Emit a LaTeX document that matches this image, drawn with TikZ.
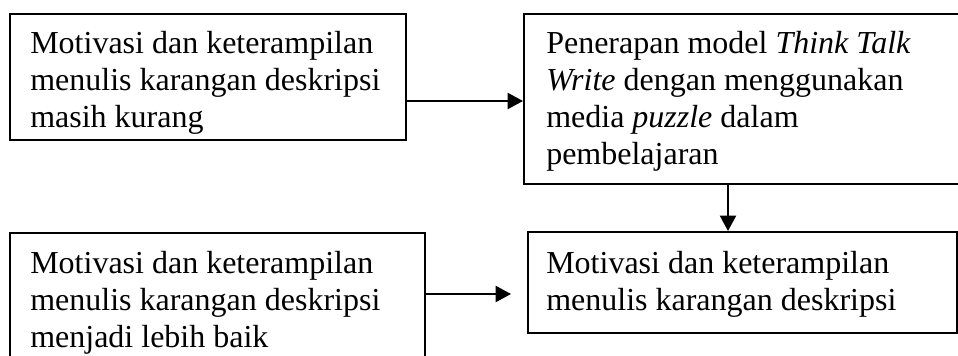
\documentclass[tikz,border=0pt]{standalone}
\usepackage{fontspec}
\setmainfont{Liberation Serif}
\usetikzlibrary{arrows.meta}
\tikzset{
  box/.style={draw, line width=1.6pt, rectangle, inner sep=0pt, anchor=north west},
  txt/.style={anchor=north west, inner sep=0pt, align=left, font=\fontsize{24}{27.8}\selectfont},
  arr/.style={line width=1.6pt, -{Triangle[length=11.5pt, width=12pt]}}
}
\begin{document}
\begin{tikzpicture}[x=0.75pt, y=-0.75pt]
\clip (0,0) rectangle (958,356);
\fill[white] (0,0) rectangle (958,356);
% boxes
\node[box, minimum width=396*0.75pt, minimum height=126*0.75pt] (b1) at (9,13) {};
\node[box, minimum width=460*0.75pt, minimum height=170*0.75pt] (b2) at (523,13) {};
\node[box, minimum width=415*0.75pt, minimum height=160*0.75pt] (b3) at (9,232) {};
\node[box, minimum width=429*0.75pt, minimum height=101*0.75pt] (b4) at (527,231) {};
% texts
\node[txt] (t1) at (30,31) {Motivasi dan keterampilan\\menulis karangan deskripsi\\masih kurang};
\node[txt] (t2) at (546,31) {Penerapan model \textit{Think Talk}\\\textit{Write} dengan menggunakan\\media \textit{puzzle} dalam\\pembelajaran};
\node[txt] (t3) at (30,251) {Motivasi dan keterampilan\\menulis karangan deskripsi\\menjadi lebih baik};
\node[txt] (t4) at (546,251) {Motivasi dan keterampilan\\menulis karangan deskripsi};
% connectors
\coordinate (y1) at (0,101);
\coordinate (y2) at (0,294);
\coordinate (x1) at (728,0);
\coordinate (a2e) at (511,294);
\draw[arr] (b1.east |- y1) -- (b2.west |- y1);
\draw[arr] (b2.south -| x1) -- (b4.north -| x1);
\draw[arr] (b3.east |- y2) -- (a2e);
\end{tikzpicture}
\end{document}
